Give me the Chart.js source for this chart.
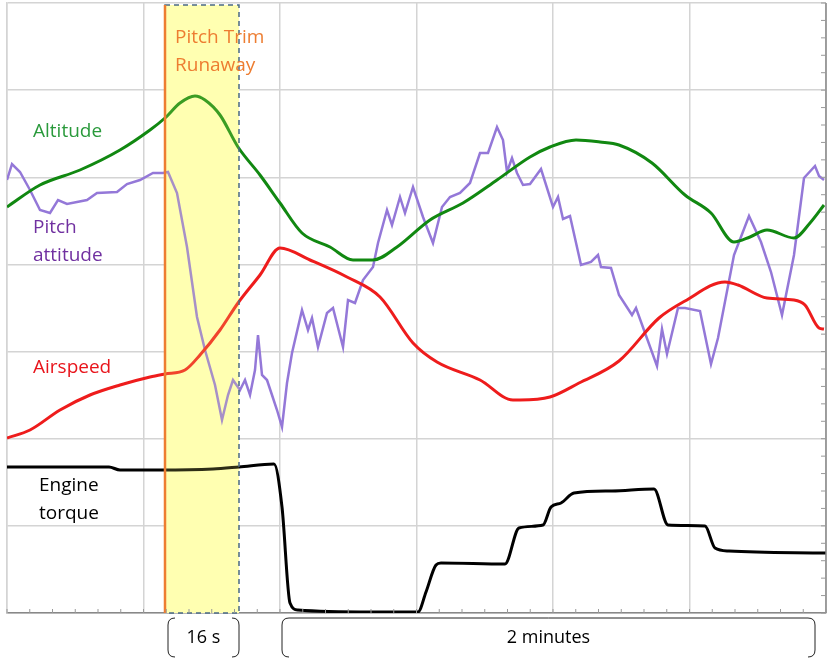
<!DOCTYPE html>
<html>
<head>
<meta charset="utf-8">
<script src="https://cdn.jsdelivr.net/npm/chart.js@4/dist/chart.umd.min.js"></script>
<style>
  html, body { margin: 0; padding: 0; background: #fff; }
  #wrap { width: 829px; height: 666px; }
</style>
</head>
<body>
<div id="wrap"><canvas id="myChart"></canvas></div>
<script>
// time (arbitrary units) and level (arbitrary units, 0 = bottom)
const altitud = [[7,406],[40,428],[80,443],[120,463],[150,483],[165,495],[180,510],[195,517],[205,513],[220,498],[238,466],[260,438],[280,410],[302,380],[330,366],[353,353],[373,353],[397,366],[430,393],[463,410],[497,433],[530,456],[550,466],[576,473],[600,471],[619,468],[652,450],[685,418],[711,400],[734,371],[750,376],[767,383],[794,375],[810,390],[824,408]];
const velocidad = [[7,175],[30,183],[60,203],[90,218],[120,228],[150,236],[165,239],[185,243],[200,258],[220,283],[238,310],[260,338],[280,365],[310,353],[347,336],[380,316],[413,270],[437,251],[480,233],[513,213],[520,213],[550,216],[579,230],[619,252],[659,295],[685,312],[725,331],[738,328],[767,315],[794,313],[805,308],[819,285],[824,284]];
const cabeceo = [[7,433],[12,449],[20,441],[30,423],[40,403],[50,400],[58,413],[67,409],[87,413],[97,420],[117,421],[127,429],[140,433],[153,440],[163,440],[168,441],[177,420],[187,366],[197,296],[205,263],[215,228],[222,193],[228,218],[233,233],[240,223],[245,233],[250,218],[255,243],[258,278],[262,238],[267,233],[272,218],[277,203],[282,186],[287,230],[292,260],[302,303],[308,283],[312,295],[318,266],[327,300],[333,305],[343,266],[348,313],[355,310],[363,333],[373,346],[378,370],[387,403],[392,388],[400,416],[405,400],[413,426],[423,396],[433,370],[442,406],[450,416],[460,420],[470,430],[480,460],[488,460],[497,486],[503,473],[507,441],[512,455],[517,440],[523,428],[530,429],[541,444],[553,406],[558,416],[563,394],[570,397],[581,348],[591,351],[598,358],[601,346],[611,345],[619,318],[632,298],[636,305],[657,247],[662,284],[667,259],[678,305],[685,305],[700,302],[711,249],[718,275],[734,358],[749,397],[761,371],[771,341],[782,298],[794,358],[804,435],[815,447],[819,437],[824,433]];
const torque = [[7,146],[109,146],[120,143],[160,143],[213,144],[239,146],[274,149],[282,106],[290,10],[298,3],[372,1],[418,1],[426,21],[436,48],[441,50],[505,49],[519,85],[543,88],[551,106],[561,110],[574,120],[612,122],[654,124],[668,88],[705,87],[715,65],[729,62],[826,60]];

const etiquetas = [
  {t: ['Altitude'], x: 33, y: 481, c: '#2a9a3c'},
  {t: ['Pitch', 'attitude'], x: 33, y: 385, c: '#7030a0'},
  {t: ['Airspeed'], x: 33, y: 245, c: '#e8141b'},
  {t: ['Engine', 'torque'], x: 39, y: 127, c: '#000000'},
  {t: ['Pitch Trim', 'Runaway'], x: 175, y: 575, c: '#ed7d31'}
];
const evento = [165, 239];
const tramos = [{desde: 168, hasta: 239, txt: '16 s', tapa: false}, {desde: 282, hasta: 815, txt: '2 minutes', tapa: true}];

const X0 = 7, X1 = 826, Y1 = 610;
const pasoX = (X1 - X0) / 6, pasoY = Y1 / 7;

const fondo = {
  id: 'fondo',
  beforeDatasetsDraw(chart) {
    const {ctx, scales: {x}, chartArea: a} = chart;
    const xa = x.getPixelForValue(evento[0]), xb = x.getPixelForValue(evento[1]);
    ctx.save();
    ctx.fillStyle = '#ffffbe';
    ctx.fillRect(xa, a.top + 2, xb - xa, a.bottom - a.top - 2);
    ctx.restore();
  }
};

const dibujos = {
  id: 'dibujos',
  afterDatasetsDraw(chart) {
    const {ctx, scales: {x, y}, chartArea: a} = chart;
    ctx.save();
    const xa = x.getPixelForValue(evento[0]), xb = x.getPixelForValue(evento[1]);
    ctx.fillStyle = 'rgba(255,255,120,0.18)';
    ctx.fillRect(xa, a.top + 2, xb - xa, a.bottom - a.top - 2);
    ctx.setLineDash([5, 4]);
    ctx.strokeStyle = '#4a6a85';
    ctx.lineWidth = 1.5;
    ctx.strokeRect(xa, a.top + 2, xb - xa, a.bottom - a.top - 2);
    ctx.setLineDash([]);
    ctx.strokeStyle = '#ed7d31';
    ctx.lineWidth = 2.5;
    ctx.beginPath(); ctx.moveTo(xa, a.top + 2); ctx.lineTo(xa, a.bottom); ctx.stroke();
    // right frame
    ctx.strokeStyle = '#888';
    ctx.lineWidth = 1.5;
    ctx.beginPath(); ctx.moveTo(a.right, a.top); ctx.lineTo(a.right, a.bottom); ctx.stroke();
    // minor ticks
    ctx.strokeStyle = '#999';
    ctx.lineWidth = 1;
    for (let v = X0; v <= X1 + 1; v += pasoX / 6) {
      const p = x.getPixelForValue(v);
      ctx.beginPath(); ctx.moveTo(p, a.bottom); ctx.lineTo(p, a.bottom - 4); ctx.stroke();
    }
    for (let v = 0; v <= Y1 + 1; v += pasoY / 5) {
      const p = y.getPixelForValue(v);
      ctx.beginPath(); ctx.moveTo(a.right, p); ctx.lineTo(a.right - 5, p); ctx.stroke();
    }
    // labels
    ctx.font = '19px "Open Sans", sans-serif';
    ctx.textBaseline = 'middle';
    etiquetas.forEach(e => {
      ctx.fillStyle = e.c;
      e.t.forEach((linea, i) => ctx.fillText(linea, x.getPixelForValue(e.x), y.getPixelForValue(e.y) + i * 28));
    });
    // bottom brackets
    ctx.strokeStyle = '#222';
    ctx.lineWidth = 1;
    ctx.fillStyle = '#000';
    ctx.textAlign = 'center';
    ctx.font = '18px "Open Sans", sans-serif';
    const t0 = a.bottom + 5, t1 = a.bottom + 44, r = 7;
    tramos.forEach(s => {
      const l = x.getPixelForValue(s.desde), rr = x.getPixelForValue(s.hasta);
      ctx.beginPath();
      if (s.tapa) {
        ctx.moveTo(l + r, t1); ctx.quadraticCurveTo(l, t1, l, t1 - r); ctx.lineTo(l, t0 + r);
        ctx.quadraticCurveTo(l, t0, l + r, t0); ctx.lineTo(rr - r, t0);
        ctx.quadraticCurveTo(rr, t0, rr, t0 + r); ctx.lineTo(rr, t1 - r); ctx.quadraticCurveTo(rr, t1, rr - r, t1);
      } else {
        ctx.moveTo(l + r, t0); ctx.quadraticCurveTo(l, t0, l, t0 + r); ctx.lineTo(l, t1 - r); ctx.quadraticCurveTo(l, t1, l + r, t1);
        ctx.moveTo(rr - r, t0); ctx.quadraticCurveTo(rr, t0, rr, t0 + r); ctx.lineTo(rr, t1 - r); ctx.quadraticCurveTo(rr, t1, rr - r, t1);
      }
      ctx.stroke();
      ctx.fillText(s.txt, (l + rr) / 2, (t0 + t1) / 2);
    });
    ctx.restore();
  }
};

function serie(datos, color, ancho, suave) {
  return {data: datos.map(p => ({x: p[0], y: p[1]})), borderColor: color, borderWidth: ancho, pointRadius: 0,
    cubicInterpolationMode: suave ? 'monotone' : 'default', tension: 0, fill: false};
}

new Chart(document.getElementById('myChart'), {
  type: 'line',
  data: {
    datasets: [
      serie(torque, '#000000', 3, true),
      serie(velocidad, '#ee1c1c', 3, true),
      serie(altitud, '#118811', 3, true),
      serie(cabeceo, '#9478d8', 2.5, false)
    ]
  },
  options: {
    responsive: true,
    maintainAspectRatio: false,
    animation: false,
    layout: {padding: {left: 7, right: 3, top: 3, bottom: 53}},
    plugins: {legend: {display: false}, tooltip: {enabled: false}},
    scales: {
      x: {
        type: 'linear', min: X0, max: X1,
        afterBuildTicks: s => { s.ticks = [0, 1, 2, 3, 4, 5, 6].map(k => ({value: X0 + k * pasoX})); },
        ticks: {display: false},
        grid: {color: '#d4d4d4', lineWidth: 1.5, drawTicks: false},
        border: {color: '#888', width: 1.5}
      },
      y: {
        min: 0, max: Y1,
        afterBuildTicks: s => { s.ticks = [0, 1, 2, 3, 4, 5, 6, 7].map(k => ({value: k * pasoY})); },
        ticks: {display: false},
        grid: {color: '#d4d4d4', lineWidth: 1.5, drawTicks: false},
        border: {color: '#d4d4d4', width: 1.5}
      }
    }
  },
  plugins: [fondo, dibujos]
});
</script>
</body>
</html>
